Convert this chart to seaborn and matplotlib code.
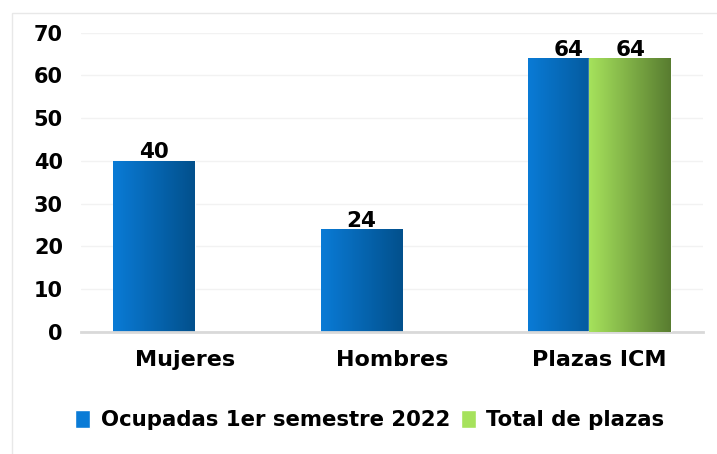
import numpy as np
import pandas as pd
import matplotlib.pyplot as plt
import seaborn as sns
from matplotlib.colors import LinearSegmentedColormap
from matplotlib.patches import Patch, Rectangle

categories = ["Mujeres", "Hombres", "Plazas ICM"]
ocupadas = [40, 24, 64]
total_plazas = [np.nan, np.nan, 64]
series = ["Ocupadas 1er semestre 2022", "Total de plazas"]
y_ticks = [0, 10, 20, 30, 40, 50, 60, 70]

blue_grad = ["#0A7BD6", "#02508C"]
green_grad = ["#A6E25C", "#587C30"]

df = pd.DataFrame({
    "categoria": categories * 2,
    "valor": ocupadas + total_plazas,
    "serie": [series[0]] * 3 + [series[1]] * 3,
})

sns.set_theme(style="white")
plt.rcParams["font.family"] = ["DejaVu Sans"]
plt.rcParams["text.color"] = "black"

fig = plt.figure(figsize=(7.17, 4.54), dpi=100)
ax = fig.add_axes([0.113, 0.269, 0.868, 0.659])

sns.barplot(data=df, x="categoria", y="valor", hue="serie", order=categories,
            hue_order=series, palette=[blue_grad[0], green_grad[0]],
            dodge=True, width=0.59, ax=ax, legend=False)

bar_w = 0.394
for k, (container, grad) in enumerate(zip(ax.containers, [blue_grad, green_grad])):
    cmap = LinearSegmentedColormap.from_list(f"g{k}", grad)
    for bar in container:
        h = bar.get_height()
        if not np.isfinite(h) or h == 0:
            bar.set_visible(False)
            continue
        cx = bar.get_x() + bar.get_width() / 2
        bar.set_x(cx - bar_w / 2)
        bar.set_width(bar_w)
        bar.set_zorder(2 + k)
        grad_img = np.linspace(0, 1, 256).reshape(1, -1)
        ax.imshow(grad_img, cmap=cmap, aspect="auto", interpolation="bilinear",
                  extent=[cx - bar_w / 2, cx + bar_w / 2, 0, h], zorder=2.5 + k)
        ax.text(cx, h - 0.3, f"{int(h)}", ha="center", va="bottom",
                fontsize=15.5, fontweight="bold", color="black", zorder=5)

ax.set_xlim(-0.5, 2.5)
ax.set_ylim(0, 70)
ax.set_yticks(y_ticks)
ax.set_xlabel("")
ax.set_ylabel("")
ax.yaxis.grid(True, color="#F2F2F2", lw=1)
ax.set_axisbelow(True)
for s in ["top", "right", "left"]:
    ax.spines[s].set_visible(False)
ax.spines["bottom"].set_color("#D9D9D9")
ax.spines["bottom"].set_linewidth(2)
ax.tick_params(axis="y", length=0, pad=13, labelsize=15, labelcolor="black")
ax.tick_params(axis="x", length=0, pad=13, labelsize=16, labelcolor="black")
for lbl in ax.get_xticklabels() + ax.get_yticklabels():
    lbl.set_fontweight("bold")

handles = [Patch(facecolor=blue_grad[0]), Patch(facecolor=green_grad[0])]
leg = fig.legend(handles, series, loc="center", bbox_to_anchor=(0.516, 0.075), ncol=2,
                 frameon=False, handlelength=0.7, handleheight=0.9, handletextpad=0.5,
                 columnspacing=0.5, prop={"size": 15.3, "weight": "bold"})
for t in leg.get_texts():
    t.set_color("black")

fig.add_artist(Rectangle((12 / 717, -0.1), 1.0, (454 - 13) / 454 + 0.1,
                         transform=fig.transFigure, fill=False,
                         edgecolor="#E8E8E8", lw=1))

fig.savefig("out.png", dpi=100)
